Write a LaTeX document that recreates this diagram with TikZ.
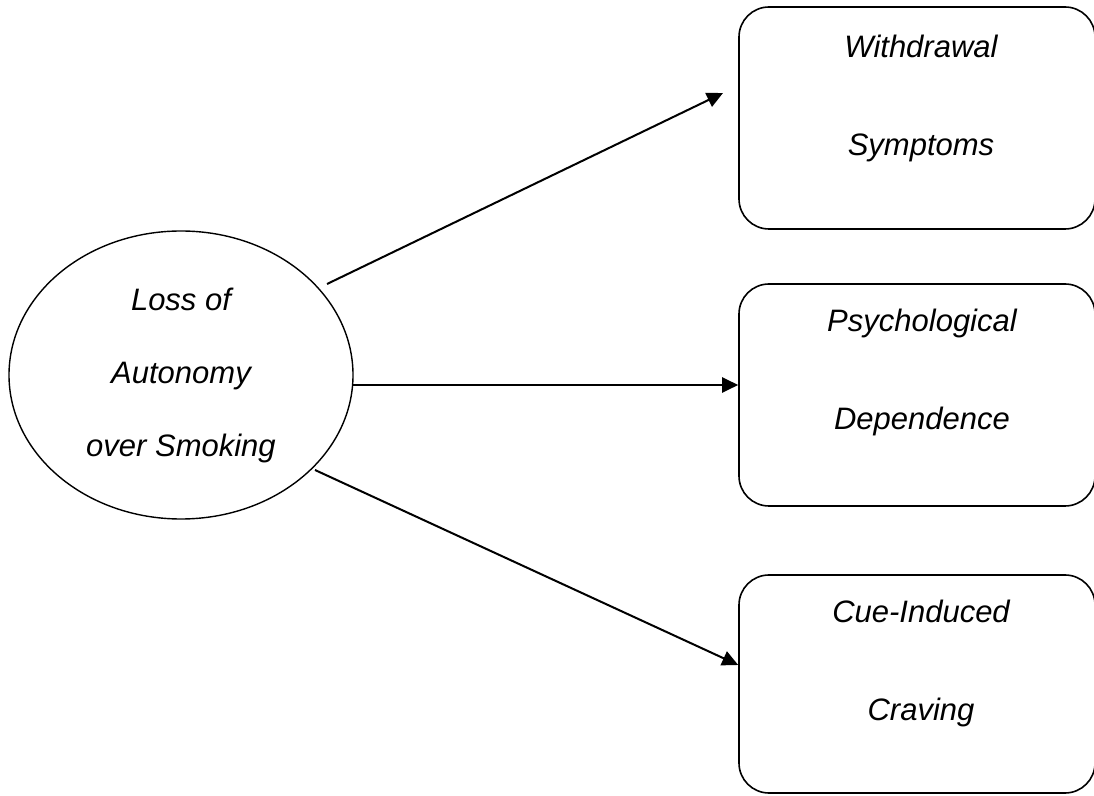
\documentclass[tikz,border=0pt]{standalone}
\usepackage{fontspec}
\setmainfont{Liberation Sans}
\usetikzlibrary{shapes.geometric,arrows.meta}
\begin{document}
\begin{tikzpicture}[x=1pt,y=1pt,
  oval/.style={draw,line width=1.4pt,ellipse,minimum width=344pt,minimum height=288pt,inner sep=0pt,
    align=center,font=\fontsize{31}{73}\selectfont\itshape},
  rbox/.style={draw,line width=1.6pt,rounded corners=30pt,minimum width=356pt,inner sep=0pt},
  txt/.style={align=center,inner sep=0pt,font=\fontsize{31}{98}\selectfont\itshape},
  arr/.style={line width=2pt,-{Triangle[length=16pt,width=15pt]}}]
\useasboundingbox (0,0) rectangle (1094,795);
\clip (0,0) rectangle (1094,795);
\node[oval] (e) at (181,420) {Loss of\\Autonomy\\over Smoking};
\node[rbox,minimum height=222pt] (b1) at (917,677) {};
\node[rbox,minimum height=222pt] (b2) at (917,400) {};
\node[rbox,minimum height=218pt] (b3) at (917,111) {};
\node[txt] (t1) at (921,697) {Withdrawal\\Symptoms};
\node[txt] (t2) at (922,423) {Psychological\\Dependence};
\node[txt] (t3) at (921,132) {Cue-Induced\\Craving};
\coordinate (s1) at (327,511);
\coordinate (s2) at (353,410);
\coordinate (s3) at (315,325);
\coordinate (h1) at (723,702);
\draw[arr] (s1) -- (h1);
\draw[arr] (s2) -- (s2 -| b2.west);
\draw[arr] (s3) -- (b3.west |- 0,130);
\end{tikzpicture}
\end{document}
